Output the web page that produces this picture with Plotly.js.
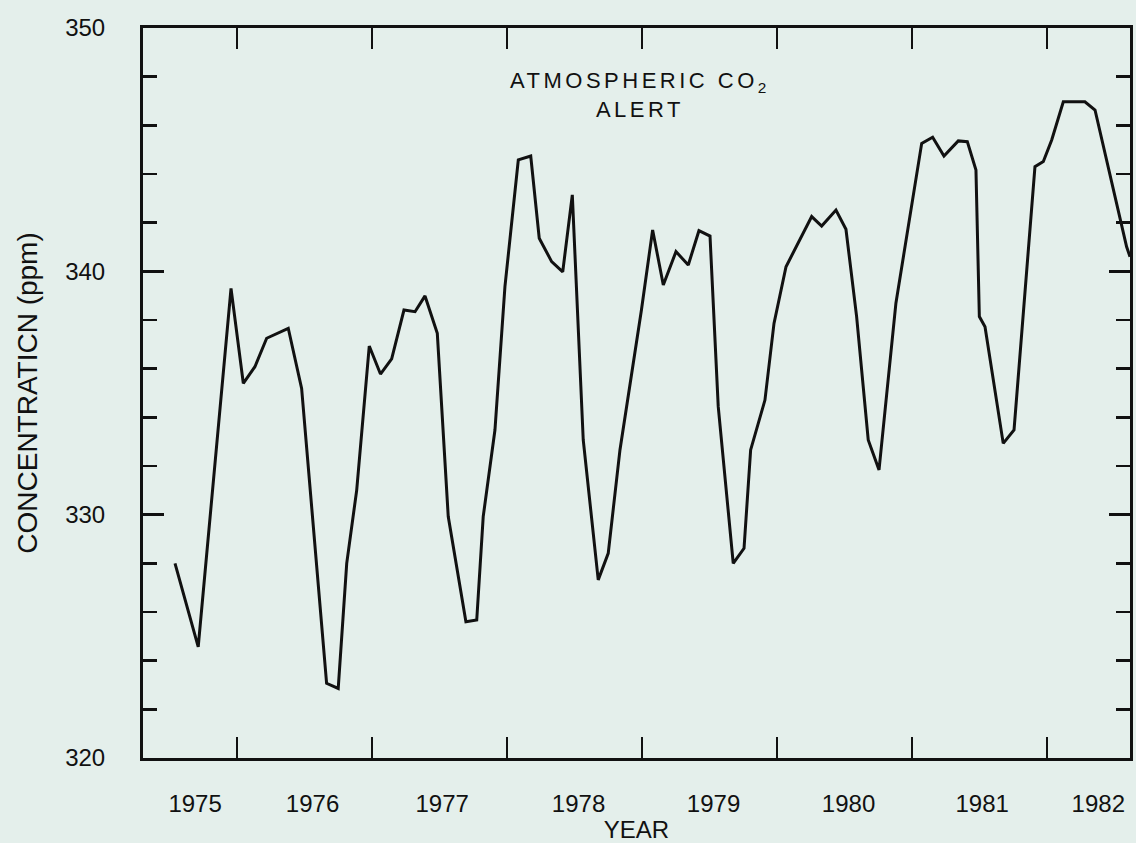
<!DOCTYPE html>
<html>
<head>
<meta charset="utf-8">
<script src="https://cdn.plot.ly/plotly-3.0.1.min.js"></script>
<style>
  html, body { margin: 0; padding: 0; background: #e4efeb; }
  #chart { width: 1136px; height: 843px; }
  .annotation-text { letter-spacing: 3.5px; }
</style>
</head>
<body>
<div id="chart"></div>
<script>
// Decimal year of each plotted point
const decimalYear = [
  1975.541, 1975.713, 1975.956, 1976.047, 1976.133, 1976.220, 1976.380, 1976.479,
  1976.664, 1976.750, 1976.813, 1976.887, 1976.980, 1977.063, 1977.146, 1977.237,
  1977.319, 1977.393, 1977.484, 1977.565, 1977.696, 1977.776, 1977.824, 1977.911,
  1977.985, 1978.084, 1978.176, 1978.239, 1978.331, 1978.413, 1978.484, 1978.565,
  1978.676, 1978.750, 1978.837, 1978.996, 1979.079, 1979.158, 1979.252, 1979.343,
  1979.422, 1979.504, 1979.565, 1979.676, 1979.756, 1979.805, 1979.911, 1979.978,
  1980.067, 1980.257, 1980.331, 1980.437, 1980.511, 1980.590, 1980.676, 1980.756,
  1980.881, 1981.072, 1981.153, 1981.237, 1981.343, 1981.410, 1981.474, 1981.499,
  1981.541, 1981.676, 1981.756, 1981.911, 1981.973, 1982.035, 1982.121, 1982.281,
  1982.356, 1982.454, 1982.590, 1982.615
];
// CO2 concentration (ppm) at Alert
const concentration = [
  328.0, 324.57, 339.30, 335.40, 336.08, 337.25, 337.66, 335.19,
  323.07, 322.86, 328.0, 331.01, 336.93, 335.78, 336.40, 338.41,
  338.34, 338.99, 337.45, 329.92, 325.60, 325.67, 329.92, 333.48,
  339.37, 344.58, 344.74, 341.36, 340.40, 339.98, 343.14, 333.07,
  327.32, 328.41, 332.66, 338.41, 341.70, 339.44, 340.81, 340.26,
  341.67, 341.45, 334.44, 328.0, 328.62, 332.66, 334.71, 337.86,
  340.19, 342.25, 341.86, 342.52, 341.73, 338.14, 333.07, 331.84,
  338.69, 345.26, 345.51, 344.74, 345.36, 345.33, 344.16, 338.14,
  337.72, 332.93, 333.48, 344.30, 344.51, 345.40, 346.97, 346.97,
  346.63, 344.23, 341.01, 340.60
];
// Year tick labels and year boundaries
const yearLabels = ['1975', '1976', '1977', '1978', '1979', '1980', '1981', '1982'];
const yearBoundaries = [1976, 1977, 1978, 1979, 1980, 1981, 1982];
const yTickValues = [320, 330, 340, 350];

// label placement (layout only)
const labelPos = [1975.69, 1976.56, 1977.52, 1978.53, 1979.53, 1980.53, 1981.52, 1982.38];

const ink = '#111111';
const fontFam = '"Liberation Sans", Arial, Helvetica, sans-serif';

const trace = {
  type: 'scatter',
  mode: 'lines',
  x: decimalYear,
  y: concentration,
  line: { color: ink, width: 3 },
  hoverinfo: 'x+y',
  showlegend: false
};

const layout = {
  width: 1136,
  height: 843,
  margin: { l: 143, r: 6, t: 28, b: 85 },
  paper_bgcolor: '#e4efeb',
  plot_bgcolor: '#e4efeb',
  font: { family: fontFam, color: ink, size: 24 },
  showlegend: false,
  xaxis: {
    range: [1975.304, 1982.615],
    tickmode: 'array',
    tickvals: labelPos,
    ticktext: yearLabels,
    ticks: '',
    ticklabelstandoff: 22,
    showgrid: false,
    zeroline: false,
    showline: true,
    linecolor: ink,
    linewidth: 3,
    mirror: 'ticks',
    minor: {
      tickmode: 'array',
      tickvals: yearBoundaries,
      ticks: 'inside',
      ticklen: 21,
      tickwidth: 2.5,
      tickcolor: ink,
      showgrid: false
    },
    tickfont: { family: fontFam, size: 24, color: ink },
    title: { text: 'YEAR', font: { family: fontFam, size: 24, color: ink }, standoff: 23 }
  },
  yaxis: {
    range: [320, 350],
    tickmode: 'array',
    tickvals: yTickValues,
    ticks: 'inside',
    ticklen: 21,
    tickwidth: 3,
    tickcolor: ink,
    ticklabelstandoff: 30,
    showgrid: false,
    zeroline: false,
    showline: true,
    linecolor: ink,
    linewidth: 3,
    mirror: 'ticks',
    minor: {
      dtick: 2,
      ticks: 'inside',
      ticklen: 14,
      tickwidth: 2.5,
      tickcolor: ink,
      showgrid: false
    },
    tickfont: { family: fontFam, size: 24, color: ink },
    title: { text: 'CONCENTRATICN (ppm)', font: { family: fontFam, size: 28, color: ink }, standoff: 20 }
  },
  annotations: [
    {
      xref: 'paper', yref: 'paper',
      x: 0.5035, y: 0.948,
      xanchor: 'center', yanchor: 'top',
      showarrow: false,
      align: 'center',
      text: 'ATMOSPHERIC CO<sub>2</sub><br>ALERT',
      font: { family: fontFam, size: 22, color: ink }
    }
  ]
};

Plotly.newPlot('chart', [trace], layout, { displayModeBar: false, staticPlot: true });
</script>
</body>
</html>
